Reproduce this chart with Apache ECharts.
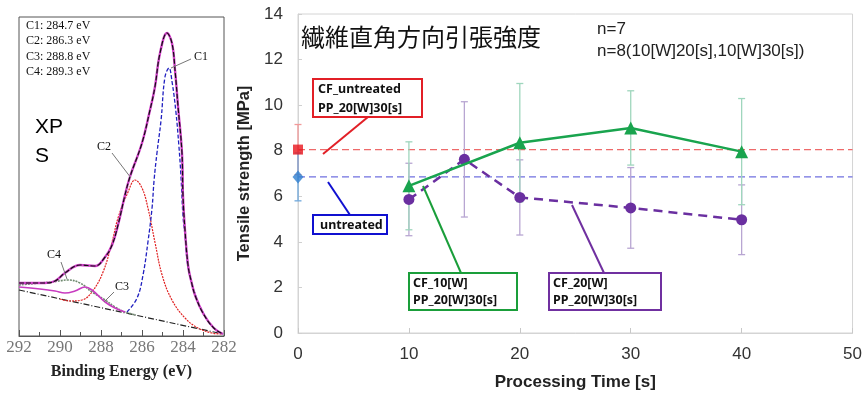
<!DOCTYPE html>
<html>
<head>
<meta charset="utf-8">
<script src="https://cdn.jsdelivr.net/npm/echarts@6/dist/echarts.min.js"></script>
<style>
html,body{margin:0;padding:0;background:#fff;}
#c{width:865px;height:396px;}
</style>
</head>
<body>
<div id="c"></div>
<script>
// ---------- XPS panel data (binding energy eV, intensity a.u.) ----------
const envE = [292.0, 290.73, 290.24, 289.76, 289.02, 288.29, 287.80, 287.46, 287.17, 286.83, 286.59, 286.0, 285.61, 285.37, 285.12, 284.78, 284.54, 284.39, 284.24, 284.05, 284.0, 283.9, 283.75, 283.6, 283.4, 283.0, 282.5, 282.05];
const envI = [53, 53, 55, 63, 71, 70, 79, 91, 111, 141, 159, 193, 226, 249, 283, 303, 293, 266, 229, 183, 140, 105, 70, 55, 40, 22, 8, 2];
const c1E = [286.73, 286.24, 285.95, 285.71, 285.51, 285.41, 285.27, 285.07, 284.88, 284.68, 284.54, 284.35, 284.2, 284.1, 284.0, 283.9, 283.76, 283.41, 282.93, 282.44, 282.05];
const c1I = [24, 38, 61, 94, 128, 156, 183, 216, 259, 268, 255, 225, 190, 160, 120, 100, 70, 42, 20, 7, 2];
const c2E = [290.0, 289.51, 288.93, 288.44, 287.90, 287.46, 287.17, 286.68, 286.34, 286.0, 285.71, 285.37, 285.02, 284.54, 283.90, 283.27, 282.59, 282.1];
const c2I = [37, 35, 36, 44, 64, 94, 118, 144, 156, 148, 128, 94, 61, 36, 18, 8, 3, 2];
const c3E = [292.0, 290.98, 290.39, 289.61, 289.02, 288.44, 287.80, 287.32, 286.83, 286.3];
const c3I = [51, 53, 54, 56, 53, 44, 36, 29, 24, 21];
const c4E = [292.0, 290.98, 290.24, 289.76, 289.27, 288.78, 288.44, 287.80, 287.32, 286.83];
const c4I = [49, 47, 45, 43, 45, 49, 46, 34, 28, 24];
const baseE = [292.0, 282.05];
const baseI = [46, 2];
const xpsTicks = [292, 290, 288, 286, 284, 282];
const peakLabels = ['C1: 284.7 eV', 'C2: 286.3 eV', 'C3: 288.8 eV', 'C4: 289.3 eV'];

// ---------- Tensile strength data ----------
const cf10Time = [10, 20, 30, 40];
const cf10Mean = [6.46, 8.35, 9.0, 7.96];
const cf10Err  = [1.93, 2.6, 1.63, 2.33];
const cf20Time = [10, 15, 20, 30, 40];
const cf20Mean = [5.86, 7.62, 5.95, 5.49, 4.97];
const cf20Err  = [1.59, 2.53, 1.65, 1.77, 1.53];
const cfUntreatedMean = 8.05;
const cfUntreatedErr = 1.1;
const untreatedMean = 6.85;
const untreatedErr = 1.05;
const timeTicks = [0, 10, 20, 30, 40, 50];
const strengthTicks = [0, 2, 4, 6, 8, 10, 12, 14];

function zip(a, b) { return a.map((v, i) => [v, b[i]]); }
function errData(xs, m, e) { return xs.map((x, i) => [x, m[i] - e[i], m[i] + e[i]]); }

function errRender(color) {
  return function (params, api) {
    const x = api.value(0), lo = api.value(1), hi = api.value(2);
    const p1 = api.coord([x, lo]), p2 = api.coord([x, hi]);
    const w = 3.5;
    const st = { stroke: color, lineWidth: 1.3 };
    return {
      type: 'group',
      children: [
        { type: 'line', shape: { x1: p1[0], y1: p1[1], x2: p2[0], y2: p2[1] }, style: st },
        { type: 'line', shape: { x1: p1[0] - w, y1: p1[1], x2: p1[0] + w, y2: p1[1] }, style: st },
        { type: 'line', shape: { x1: p2[0] - w, y1: p2[1], x2: p2[0] + w, y2: p2[1] }, style: st }
      ]
    };
  };
}

const chart = echarts.init(document.getElementById('c'), null, { renderer: 'canvas' });

const serif = '"Liberation Serif", "DejaVu Serif", serif';
const sans = '"Liberation Sans", Arial, sans-serif';
const boxFont = 'bold 12.5px "Noto Sans", "Open Sans", sans-serif';

function box(x, y, w, h, color, lines, tx, ty, lh) {
  const els = [{
    type: 'rect', shape: { x: x, y: y, width: w, height: h },
    style: { fill: '#fff', stroke: color, lineWidth: 2 }, z: 100
  }];
  lines.forEach((t, i) => {
    els.push({ type: 'text', x: tx, y: ty + i * lh, z: 101,
      style: { text: t, font: boxFont, fill: '#111', textVerticalAlign: 'middle' } });
  });
  return els;
}
function leader(x1, y1, x2, y2, color, lw) {
  return { type: 'line', z: 99, shape: { x1: x1, y1: y1, x2: x2, y2: y2 }, style: { stroke: color, lineWidth: lw } };
}

let graphics = [];
// XPS texts
peakLabels.forEach((t, i) => {
  graphics.push({ type: 'text', x: 26, y: 26 + i * 15.3, z: 50,
    style: { text: t, font: '12px ' + serif, fill: '#111', textVerticalAlign: 'middle' } });
});
graphics.push({ type: 'text', x: 35, y: 127, style: { text: 'XP', font: '21px ' + sans, fill: '#000', textVerticalAlign: 'middle' } });
graphics.push({ type: 'text', x: 35, y: 156, style: { text: 'S', font: '21px ' + sans, fill: '#000', textVerticalAlign: 'middle' } });
graphics.push({ type: 'text', x: 194, y: 57, style: { text: 'C1', font: '12px ' + serif, fill: '#111', textVerticalAlign: 'middle' } });
graphics.push(leader(191, 59, 171, 68, '#777', 1));
graphics.push({ type: 'text', x: 97, y: 147, style: { text: 'C2', font: '12px ' + serif, fill: '#111', textVerticalAlign: 'middle' } });
graphics.push(leader(112, 153, 131, 178, '#777', 1));
graphics.push({ type: 'text', x: 47, y: 255, style: { text: 'C4', font: '12px ' + serif, fill: '#111', textVerticalAlign: 'middle' } });
graphics.push(leader(61, 262, 67, 279, '#777', 1));
graphics.push({ type: 'text', x: 115, y: 287, style: { text: 'C3', font: '12px ' + serif, fill: '#111', textVerticalAlign: 'middle' } });
graphics.push(leader(114, 292, 104, 302, '#777', 1));

// Tensile chart texts
graphics.push({ type: 'text', x: 301, y: 37, style: { text: '繊維直角方向引張強度', font: '24px "Noto Sans CJK JP", sans-serif', fill: '#111', textVerticalAlign: 'middle' } });
graphics.push({ type: 'text', x: 597, y: 29, style: { text: 'n=7', font: '17px ' + sans, fill: '#222', textVerticalAlign: 'middle' } });
graphics.push({ type: 'text', x: 597, y: 51, style: { text: 'n=8(10[W]20[s],10[W]30[s])', font: '17px ' + sans, fill: '#222', textVerticalAlign: 'middle' } });

// annotation leaders + boxes
graphics.push(leader(368, 117, 323, 154, '#e21f26', 2));
graphics = graphics.concat(box(313, 79, 109, 38, '#e21f26', ['CF_untreated', 'PP_20[W]30[s]'], 318, 89, 19));
graphics.push(leader(350, 215, 328, 182, '#1010d0', 2));
graphics = graphics.concat(box(313, 215, 74, 19, '#1010d0', ['untreated'], 320, 225, 19));
graphics.push(leader(423, 186, 461, 273, '#1a9e3a', 2));
graphics = graphics.concat(box(409, 273, 108, 37, '#1a9e3a', ['CF_10[W]', 'PP_20[W]30[s]'], 413, 283, 17.5));
graphics.push(leader(572, 205, 604, 273, '#7030a0', 2));
graphics = graphics.concat(box(549, 273, 112, 37, '#7030a0', ['CF_20[W]', 'PP_20[W]30[s]'], 553, 283, 17.5));

const option = {
  animation: false,
  backgroundColor: '#fff',
  grid: [
    { left: 19, top: 17, width: 205, height: 319, show: true, borderColor: '#555', borderWidth: 1, backgroundColor: 'transparent' },
    { left: 298, top: 14, width: 556, height: 327, show: true, borderColor: '#d4d4d4', borderWidth: 1, backgroundColor: 'transparent' }
  ],
  xAxis: [
    {
      gridIndex: 0, type: 'value', min: 282, max: 292, interval: 2, inverse: true,
      name: 'Binding Energy (eV)', nameLocation: 'middle', nameGap: 28,
      nameTextStyle: { fontFamily: serif, fontWeight: 'bold', fontSize: 16, color: '#222' },
      axisLine: { show: true, lineStyle: { color: '#555', width: 1 } },
      axisTick: { show: true, inside: true, length: 6, lineStyle: { color: '#555' } },
      minorTick: { show: true, splitNumber: 2, length: 4, lineStyle: { color: '#555' } },
      axisLabel: { fontFamily: serif, fontSize: 17, color: '#777', margin: 3,
        formatter: v => xpsTicks.includes(v) ? String(v) : '' },
      splitLine: { show: false }
    },
    {
      gridIndex: 1, type: 'value', min: 0, max: 50, interval: 10,
      name: 'Processing Time [s]', nameLocation: 'middle', nameGap: 41,
      nameTextStyle: { fontFamily: sans, fontWeight: 'bold', fontSize: 17, color: '#222' },
      axisLine: { show: true, lineStyle: { color: '#d4d4d4' } },
      axisTick: { show: true, inside: true, length: 5, lineStyle: { color: '#c8c8c8' } },
      axisLabel: { fontFamily: sans, fontSize: 17, color: '#333', margin: 13,
        formatter: v => timeTicks.includes(v) ? String(v) : '' },
      splitLine: { show: false }
    }
  ],
  yAxis: [
    { gridIndex: 0, type: 'value', min: 0, max: 319, show: false },
    {
      gridIndex: 1, type: 'value', min: 0, max: 14, interval: 2,
      name: 'Tensile strength [MPa]', nameLocation: 'middle', nameGap: 39, nameRotate: 90,
      nameTextStyle: { fontFamily: sans, fontWeight: 'bold', fontSize: 16.5, color: '#222' },
      axisLine: { show: true, lineStyle: { color: '#d4d4d4' } },
      axisTick: { show: true, inside: true, length: 4, lineStyle: { color: '#d0d0d0' } },
      axisLabel: { fontFamily: sans, fontSize: 17, color: '#333', margin: 15,
        formatter: v => strengthTicks.includes(v) ? String(v) : '' },
      splitLine: { show: false }
    }
  ],
  series: [
    // XPS curves
    { type: 'line', xAxisIndex: 0, yAxisIndex: 0, data: zip(baseE, baseI), showSymbol: false,
      lineStyle: { color: '#222', width: 1.2, type: [6, 2, 1, 2] }, z: 2 },
    { type: 'line', xAxisIndex: 0, yAxisIndex: 0, data: zip(c2E, c2I), showSymbol: false, smooth: 0.4,
      lineStyle: { color: '#e02020', width: 1.2, type: [2, 1] }, z: 3 },
    { type: 'line', xAxisIndex: 0, yAxisIndex: 0, data: zip(c3E, c3I), showSymbol: false, smooth: 0.4,
      lineStyle: { color: '#6f8a6f', width: 1.6, type: [2, 1] }, z: 3 },
    { type: 'line', xAxisIndex: 0, yAxisIndex: 0, data: zip(c4E, c4I), showSymbol: false, smooth: 0.4,
      lineStyle: { color: '#c83cc0', width: 1.6 }, z: 3 },
    { type: 'line', xAxisIndex: 0, yAxisIndex: 0, data: zip(c1E, c1I), showSymbol: false, smooth: 0.4,
      lineStyle: { color: '#2020c0', width: 1.3, type: [4, 2] }, z: 3 },
    { type: 'line', xAxisIndex: 0, yAxisIndex: 0, data: zip(envE, envI), showSymbol: false, smooth: 0.4,
      lineStyle: { color: '#d040c8', width: 2.4 }, z: 4 },
    { type: 'line', xAxisIndex: 0, yAxisIndex: 0, data: zip(envE, envI), showSymbol: false, smooth: 0.4,
      lineStyle: { color: '#111', width: 1.2, type: [5, 2] }, z: 5 },

    // reference dashed lines
    { type: 'line', xAxisIndex: 1, yAxisIndex: 1, data: [[0, cfUntreatedMean], [50, cfUntreatedMean]], showSymbol: false,
      lineStyle: { color: '#ee6a6a', width: 1.2, type: [7, 4] }, z: 2 },
    { type: 'line', xAxisIndex: 1, yAxisIndex: 1, data: [[0, untreatedMean], [50, untreatedMean]], showSymbol: false,
      lineStyle: { color: '#7070e0', width: 1.2, type: [7, 4] }, z: 2 },

    // error bars
    { type: 'custom', xAxisIndex: 1, yAxisIndex: 1, clip: false, z: 3,
      data: errData([0], [cfUntreatedMean], [cfUntreatedErr]), renderItem: errRender('#f19a9a') },
    { type: 'custom', xAxisIndex: 1, yAxisIndex: 1, clip: false, z: 3,
      data: errData([0], [untreatedMean], [untreatedErr]), renderItem: errRender('#6fa8dc') },
    { type: 'custom', xAxisIndex: 1, yAxisIndex: 1, clip: false, z: 3,
      data: errData(cf20Time, cf20Mean, cf20Err), renderItem: errRender('#b8a6d2') },
    { type: 'custom', xAxisIndex: 1, yAxisIndex: 1, clip: false, z: 3,
      data: errData(cf10Time, cf10Mean, cf10Err), renderItem: errRender('#9fd6bd') },

    // main series
    { type: 'line', xAxisIndex: 1, yAxisIndex: 1, data: zip(cf20Time, cf20Mean),
      symbol: 'circle', symbolSize: 11, itemStyle: { color: '#6a2fa0' },
      lineStyle: { color: '#6a2fa0', width: 2.5, type: [9, 6] }, z: 5 },
    { type: 'line', xAxisIndex: 1, yAxisIndex: 1, data: zip(cf10Time, cf10Mean),
      symbol: 'triangle', symbolSize: 13, itemStyle: { color: '#19a44e' },
      lineStyle: { color: '#19a44e', width: 2.5 }, z: 6 },
    { type: 'scatter', xAxisIndex: 1, yAxisIndex: 1, data: [[0, cfUntreatedMean]],
      symbol: 'rect', symbolSize: 10, itemStyle: { color: '#e8141c' }, z: 7 },
    { type: 'scatter', xAxisIndex: 1, yAxisIndex: 1, data: [[0, untreatedMean]],
      symbol: 'diamond', symbolSize: [11, 13], itemStyle: { color: '#2f7fcf' }, z: 7 }
  ],
  graphic: graphics
};
chart.setOption(option);
</script>
</body>
</html>
